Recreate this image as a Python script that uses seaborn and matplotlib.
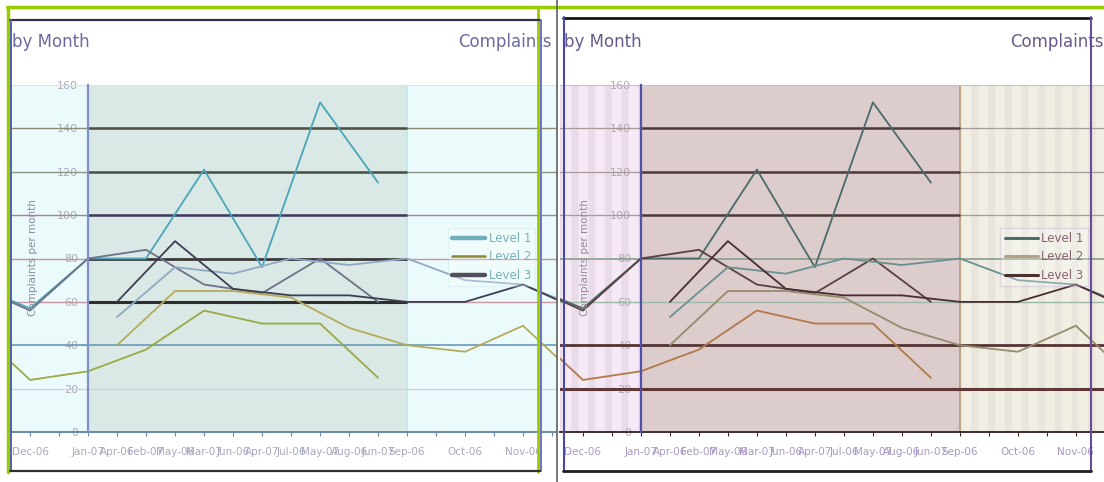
import pandas as pd
import matplotlib
matplotlib.use("Agg")
import matplotlib.pyplot as plt
from matplotlib.lines import Line2D
import seaborn as sns

# Monthly complaints per level
months = ["Apr-06", "May-06", "Jun-06", "Jul-06", "Aug-06", "Sep-06", "Oct-06", "Nov-06",
          "Dec-06", "Jan-07", "Feb-07", "Mar-07", "Apr-07", "May-07", "Jun-07"]
level1 = [53, 76, 73, 80, 77, 80, 70, 68, 57, 80, 80, 121, 76, 152, 115]
level2 = [40, 65, 65, 62, 48, 40, 37, 49, 24, 28, 38, 56, 50, 50, 25]
level3 = [60, 88, 66, 63, 63, 60, 60, 68, 56, 80, 84, 68, 64, 80, 60]
levels = ["Level 1", "Level 2", "Level 3"]
y_ticks = [0, 20, 40, 60, 80, 100, 120, 140, 160]

W, H = 1104, 482


def build_frame():
    rows = []
    for lvl, vals in zip(levels, [level1, level2, level3]):
        for i, (m, v) in enumerate(zip(months, vals)):
            rows.append({"month": m, "level": lvl, "value": v, "slot": i})
    df = pd.DataFrame(rows)
    # the capture shows the chart twice, the second copy shifted by 19 tick steps
    df["pos_main"] = 2 * df["slot"] + 3
    df["pos_prev"] = df["pos_main"] - 19
    return df


PANELS = [
    dict(
        rect=(8, 557), xlim=(-0.76, 18.17),
        face="#ebfbfb", left_bg="#ebfbfb", mid_bg="#dae9e6", right_bg="#ebfbfb",
        stripes=None,
        grid=[(160, "#d8e8d8", 0.8, None, 0),
              (140, "#8c8c78", 1.0, "#4e4e44", 1.8),
              (120, "#8c9484", 1.0, "#485048", 1.8),
              (100, "#9c84a4", 1.0, "#3c3c5c", 1.8),
              (80, "#c890a0", 1.0, "#3a3a3a", 2.0),
              (60, "#c894a4", 1.0, "#2e2e2e", 2.2),
              (40, "#6a98b8", 1.2, None, 0),
              (20, "#d8c8e8", 0.9, None, 0)],
        prev_pal={"Level 1": "#4aa6b8", "Level 2": "#9aaa44", "Level 3": "#707088"},
        main_pal={"Level 1": "#90a8c4", "Level 2": "#b4ac58", "Level 3": "#3e3e52"},
        leg_pal=["#6fb0bc", "#8a8a30", "#505058"], leg_w=[3.2, 1.8, 3.2],
        leg_text="#78b0b8", leg_edge="#b8d8dc", leg_anchor=(0.96, 0.588),
        spine="#7f90c4", bottom="#6a88a8", tick_txt="#a6a8c0", ytick_txt="#a8a8b4",
        title_c="#6a6aa0", vline13="#c4e4ec",
    ),
    dict(
        rect=(560, 1104), xlim=(-0.79, 17.97),
        face="#f1efe4", left_bg="#f4e9f4", mid_bg="#dccccc", right_bg="#f1efe4",
        stripes=("#e9dbe9", "#e8e6dc"),
        grid=[(160, "#c8c0c0", 0.8, None, 0),
              (140, "#a89a9a", 0.9, "#4e3a3a", 1.8),
              (120, "#a89a9a", 0.9, "#4e3a3a", 1.8),
              (100, "#a89a9a", 0.9, "#4e3a3a", 1.8),
              (80, "#8a9c8a", 1.2, None, 0),
              (60, "#9cb8a8", 1.0, None, 0),
              (40, "#553434", 2.0, None, 0),
              (20, "#603838", 2.2, None, 0)],
        prev_pal={"Level 1": "#4a6a6c", "Level 2": "#b07a48", "Level 3": "#5a4040"},
        main_pal={"Level 1": "#6a9090", "Level 2": "#948c6c", "Level 3": "#4a2c34"},
        leg_pal=["#4a6e70", "#b8a088", "#4a3030"], leg_w=[2.2, 2.2, 2.2],
        leg_text="#8a6070", leg_edge="#a888c8", leg_anchor=(0.97, 0.588),
        spine="#5050a8", bottom="#3e2e2e", tick_txt="#a898c4", ytick_txt="#b0a8b8",
        title_c="#6a5a8a", vline13="#b89878",
    ),
]


def tick_labels(xlim):
    labels = {}
    for i, m in enumerate(months):
        for pos in (2 * i + 3, 2 * i + 3 - 19):
            if xlim[0] <= pos <= xlim[1]:
                labels[pos] = m
    return labels


def draw_panel(fig, df, st):
    x0, x1 = st["rect"]
    ax = fig.add_axes([x0 / W, 1 - 432 / H, (x1 - x0) / W, (432 - 85) / H])
    lo, hi = st["xlim"]
    ax.set_xlim(lo, hi)
    ax.set_ylim(0, 160)
    ax.set_facecolor(st["face"])

    plt.rcParams["hatch.linewidth"] = 5
    if st["stripes"]:
        ax.axvspan(lo, 2, facecolor=st["left_bg"], edgecolor=st["stripes"][0], hatch="|", lw=0, zorder=0)
        ax.axvspan(13, hi, facecolor=st["right_bg"], edgecolor=st["stripes"][1], hatch="|", lw=0, zorder=0)
    ax.axvspan(2, 13, color=st["mid_bg"], lw=0, zorder=0)
    ax.axvline(13, color=st["vline13"], lw=1.2, zorder=1)

    for y, full_c, full_w, mid_c, mid_w in st["grid"]:
        ax.axhline(y, color=full_c, lw=full_w, zorder=1)
        if mid_c:
            ax.hlines(y, 2, 13, color=mid_c, lw=mid_w, zorder=1)

    sns.lineplot(data=df, x="pos_prev", y="value", hue="level", palette=st["prev_pal"],
                 ax=ax, legend=False, linewidth=1.3, zorder=3)
    sns.lineplot(data=df, x="pos_main", y="value", hue="level", palette=st["main_pal"],
                 ax=ax, legend=False, linewidth=1.3, zorder=3)
    ax.set_xlabel("")
    ax.set_ylabel("")

    for s in ["top", "right"]:
        ax.spines[s].set_visible(False)
    ax.spines["left"].set_position(("data", 2))
    ax.spines["left"].set_color(st["spine"])
    ax.spines["left"].set_linewidth(1.6)
    ax.spines["left"].set_zorder(4)
    ax.spines["bottom"].set_color(st["bottom"])
    ax.spines["bottom"].set_linewidth(1.4)

    ax.set_yticks(y_ticks)
    ax.tick_params(axis="y", length=5, width=0.8, color=st["ytick_txt"], labelcolor=st["ytick_txt"],
                   labelsize=8, pad=2, left=True)

    labels = tick_labels(st["xlim"])
    pos = sorted(labels)
    ax.set_xticks(pos)
    ax.set_xticklabels([labels[p] for p in pos])
    ax.set_xticks([p for p in range(0, 19) if p not in labels and lo <= p <= hi], minor=True)
    ax.tick_params(axis="x", which="both", length=3, width=0.8, color=st["bottom"],
                   labelcolor=st["tick_txt"], labelsize=7.5, pad=8, bottom=True)

    handles = [Line2D([], [], color=c, lw=w) for c, w in zip(st["leg_pal"], st["leg_w"])]
    leg = ax.legend(handles, levels, loc="upper right", bbox_to_anchor=st["leg_anchor"],
                    borderaxespad=0, fontsize=8.5, handlelength=2.8, handletextpad=0.3,
                    labelspacing=0.45, borderpad=0.35, fancybox=False, framealpha=0.25)
    leg.get_frame().set_edgecolor(st["leg_edge"])
    leg.get_frame().set_linewidth(1.0)
    for t in leg.get_texts():
        t.set_color(st["leg_text"])

    # wrapped chart title and rotated axis label
    fig.text((x0 + 4) / W, 1 - 42 / H, "by Month", ha="left", va="center", fontsize=12, color=st["title_c"])
    fig.text((x0 + 450) / W, 1 - 42 / H, "Complaints", ha="left", va="center", fontsize=12, color=st["title_c"])
    fig.text((x0 + 25) / W, 1 - 258 / H, "Complaints per month", rotation=90, ha="center", va="center",
             fontsize=7.5, color="#8c8c9c")
    return ax


def fline(fig, x0, y0, x1, y1, color, lw):
    fig.add_artist(Line2D([x0 / W, x1 / W], [1 - y0 / H, 1 - y1 / H], transform=fig.transFigure,
                          color=color, lw=lw, zorder=10))


def main():
    sns.set_theme(style="white")
    plt.rcParams["font.family"] = ["DejaVu Sans"]
    df = build_frame()

    fig = plt.figure(figsize=(W / 100, H / 100), dpi=100)
    fig.patch.set_facecolor("white")
    for st in PANELS:
        draw_panel(fig, df, st)

    # window frames of the screen capture
    fline(fig, 7, 7, W, 7, "#99cc00", 2.5)
    fline(fig, 7.5, 7, 7.5, 472, "#99cc00", 2.5)
    fline(fig, 538, 7, 538, 472, "#99cc00", 2.0)
    fline(fig, 10, 20, 540, 20, "#303048", 1.6)
    fline(fig, 10.5, 20, 10.5, 471, "#5060b0", 1.4)
    fline(fig, 540.5, 20, 540.5, 471, "#7070c0", 1.4)
    fline(fig, 10, 470.5, 540, 470.5, "#303030", 1.6)
    fline(fig, 557, 0, 557, H, "#606060", 1.2)
    fline(fig, 563, 17.5, 1091, 17.5, "#151515", 2.0)
    fline(fig, 563.5, 17, 563.5, 471, "#4848a8", 1.5)
    fline(fig, 1090.5, 17, 1090.5, 471, "#6a4a9a", 1.5)
    fline(fig, 563, 470.5, 1091, 470.5, "#202020", 2.0)

    fig.savefig("out.png", dpi=100)


if __name__ == "__main__":
    main()
